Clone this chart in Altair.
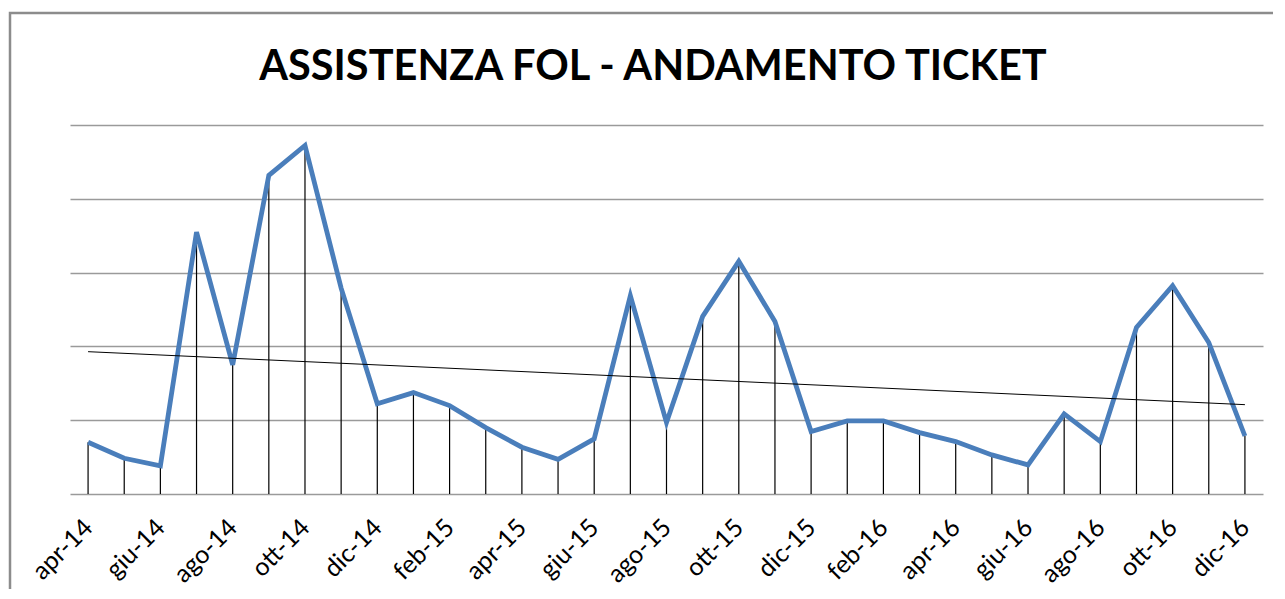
import altair as alt
import pandas as pd

title_text = "ASSISTENZA FOL - ANDAMENTO TICKET"
months = ["apr-14", "mag-14", "giu-14", "lug-14", "ago-14", "set-14", "ott-14", "nov-14", "dic-14",
          "gen-15", "feb-15", "mar-15", "apr-15", "mag-15", "giu-15", "lug-15", "ago-15", "set-15",
          "ott-15", "nov-15", "dic-15",
          "gen-16", "feb-16", "mar-16", "apr-16", "mag-16", "giu-16", "lug-16", "ago-16", "set-16",
          "ott-16", "nov-16", "dic-16"]
tickets = [35.1, 24.2, 19.0, 177.5, 87.5, 215.9, 236.1, 139.5, 61.1,
           68.7, 59.9, 45.0, 31.7, 23.5, 37.3, 134.3, 48.4, 120.3,
           157.6, 116.9, 42.3,
           49.5, 49.5, 41.6, 35.5, 26.5, 19.7, 54.3, 35.5, 112.8,
           141.1, 102.6, 39.3]
y_grid = [0, 50, 100, 150, 200, 250]
label_idx = list(range(0, len(months), 2))

df = pd.DataFrame({"i": list(range(len(months))), "mese": months, "v": tickets})

label_js = "[" + ",".join("'%s'" % m for m in months) + "]"

x = alt.X("i:Q", scale=alt.Scale(domain=[-0.5, len(months) - 0.5], nice=False, zero=False),
          axis=alt.Axis(values=label_idx, labelExpr=label_js + "[datum.value]", labelAngle=-45,
                        labelAlign="right", labelBaseline="middle", labelPadding=29,
                        labelFont="Lato", labelFontSize=25, labelColor="#000000",
                        ticks=False, domain=False, grid=False, title=None, labelOverlap=False))
y = alt.Y("v:Q", scale=alt.Scale(domain=[0, 250], nice=False),
          axis=alt.Axis(values=y_grid, labels=False, ticks=False, domain=False, grid=True,
                        gridColor="#9a9a9a", gridWidth=1.3, title=None))

base = alt.Chart(df)
one = pd.DataFrame({"t": [title_text]})

border = alt.Chart(one).mark_rect(
    fill=None, stroke="#8c8c8c", strokeWidth=2.5
).encode(x=alt.value(-60), x2=alt.value(1400), y=alt.value(-112), y2=alt.value(700))

title = alt.Chart(one).mark_text(
    font="Lato", fontSize=41.5, fontWeight="bold", color="#000000", align="center", baseline="middle"
).encode(x=alt.value(583), y=alt.value(-57), text="t:N")

drops = base.mark_rule(color="#000000", strokeWidth=1.2).encode(x=x, y=y, y2=alt.datum(0))

line = base.mark_line(color="#4A7EBB", strokeWidth=4.8, strokeJoin="miter").encode(x=x, y=y)

trend = base.transform_regression("i", "v").mark_line(color="#000000", strokeWidth=1).encode(
    x=alt.X("i:Q"), y=alt.Y("v:Q"))

chart = alt.layer(border, title, drops, line, trend).properties(
    width=1193, height=369,
    autosize=alt.AutoSizeParams(type="none"),
    padding={"left": 62, "top": 117, "right": 10, "bottom": 95},
).configure_view(stroke=None)

chart.save("out.html", embed_options={"renderer": "svg", "actions": False})
